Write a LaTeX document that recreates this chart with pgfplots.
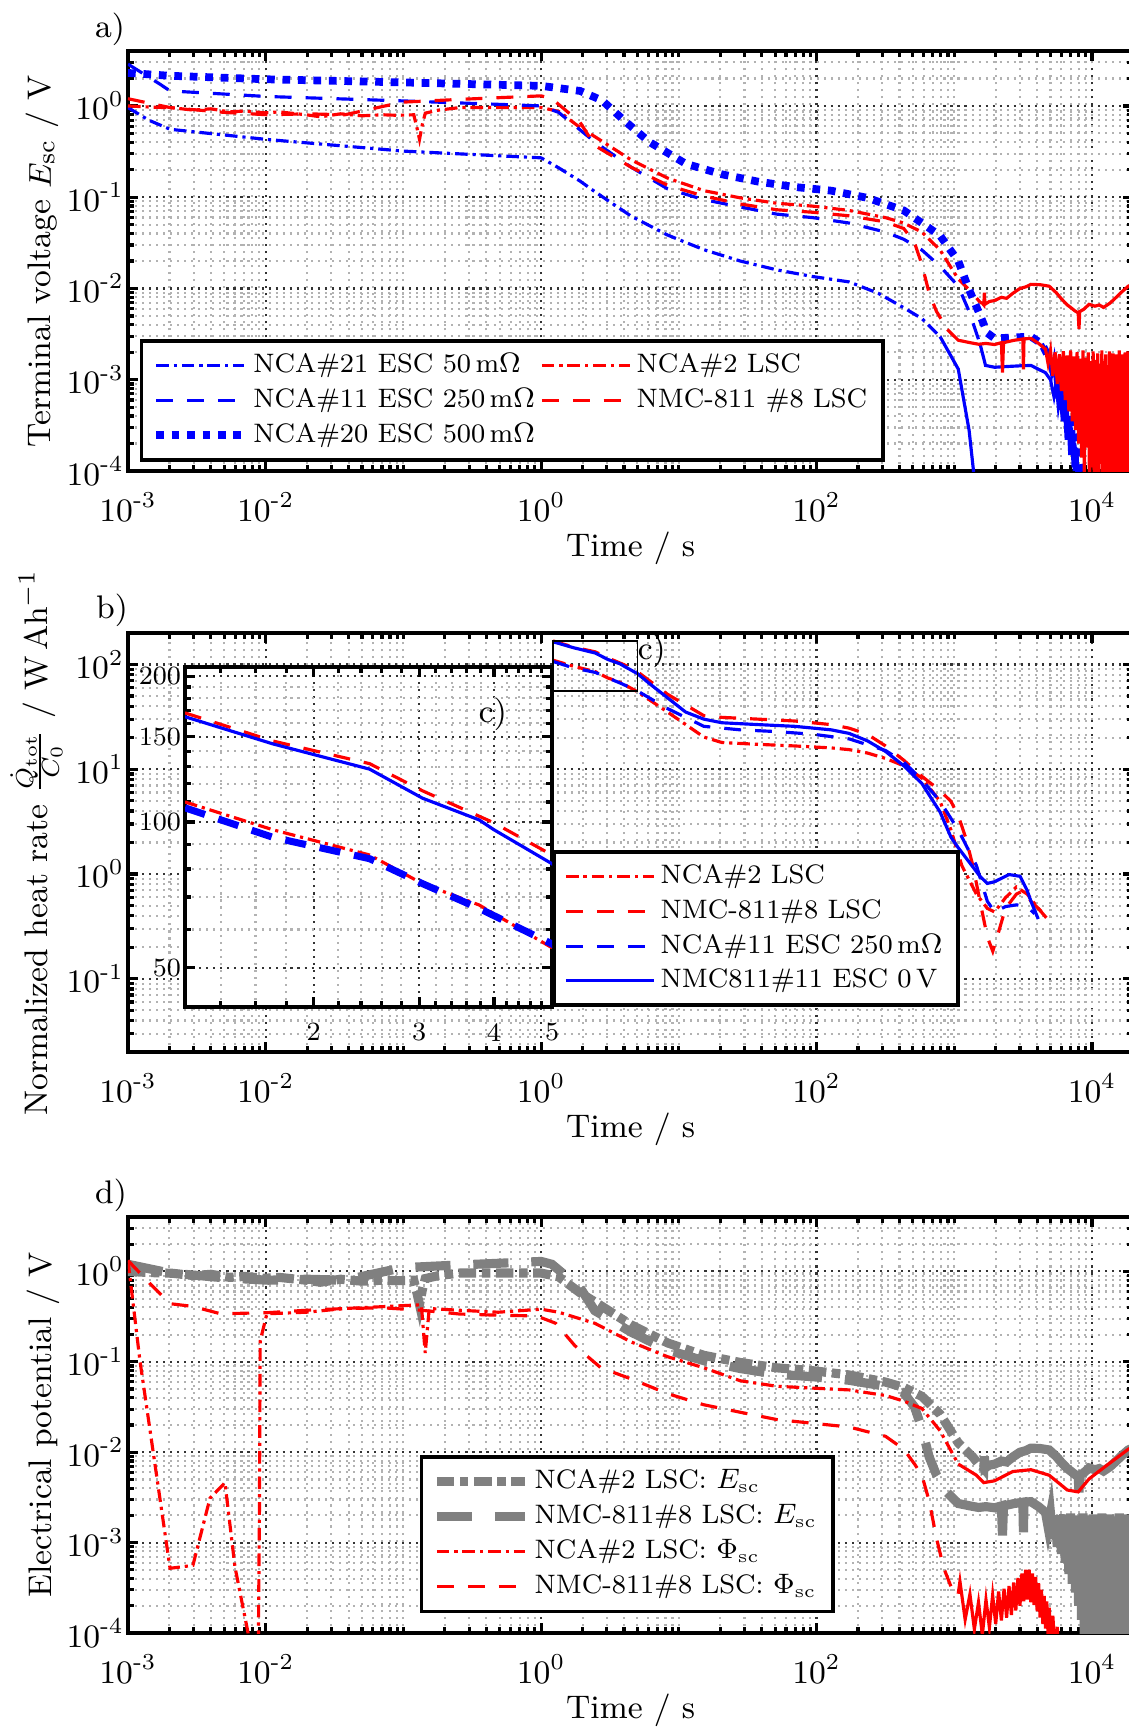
\documentclass[border=0pt]{standalone}
\usepackage{pgfplots}
\pgfplotsset{compat=1.18}
\usepackage{pgfplotstable}

\definecolor{mblue}{rgb}{0,0,1}
\definecolor{mred}{rgb}{1,0,0}
\definecolor{mgray}{rgb}{0.5,0.5,0.5}

\tikzset{
  ddot/.style={dash pattern=on 3.6pt off 1.4pt on 0.9pt off 1.4pt},
  ddash/.style={dash pattern=on 4.8pt off 4pt},
  gdot/.style={dash pattern=on 5pt off 1.6pt on 2.4pt off 1.6pt},
  gdash/.style={dash pattern=on 10pt off 6.5pt},
  bl/.style={color=mblue, line width=0.9pt},
  rd/.style={color=mred, line width=0.9pt},
  gy/.style={color=mgray, line width=2.6pt},
}

% ---------- panel a: terminal voltage ----------
\pgfplotstableread{
t v
0.001 0.96
0.00141 0.70
0.00202 0.555
0.0101 0.43
0.1 0.32
0.3 0.295
1.0 0.27
1.34 0.21
1.92 0.15
2.455 0.115
4.51 0.0620
8.28 0.0385
15.2 0.0266
27.9 0.0200
51.3 0.0160
94.2 0.0135
172.6 0.0118
281 0.00885
430 0.00615
582 0.00468
789 0.00297
}\escA
\pgfplotstableread{
t v
789 0.00297
1069 0.00131
1282 0.000279
1380 0.0001
1445 0.000025
}\escAtail

\pgfplotstableread{
t v
0.001 2.87
0.00171 1.73
0.00202 1.46
0.0101 1.27
0.1 1.135
0.6 1.03
1.0 1.0
1.34 0.85
2.455 0.403
4.51 0.213
8.28 0.1236
15.2 0.0940
27.9 0.0783
51.3 0.0653
94.2 0.0597
172.6 0.0521
317 0.0415
430 0.0346
582 0.0264
789 0.0175
1069 0.0106
1282 0.00561
1538 0.00248
}\escB
\pgfplotstableread{
t v
1538 0.00248
1687 0.001435
1963 0.00137
2500 0.00140
3000 0.00142
3606 0.001435
4100 0.00130
4592 0.001197
5000 0.00100
5300 0.00065
5500 0.00090
5700 0.00050
5900 0.00070
6100 0.00035
6300 0.00055
6500 0.00022
6700 0.00040
6900 0.00015
7100 0.00030
7300 0.00011
7500 0.00020
7943 0.0001
8318 0.000032
}\escBtail

\pgfplotstableread{
t v
0.001 2.3
0.00202 2.14
0.0101 1.96
0.1 1.81
1.0 1.66
1.92 1.46
2.773 1.148
4.0 0.695
6.11 0.403
11.2 0.233
20.6 0.178
37.8 0.148
69.5 0.1294
127.6 0.118
234 0.0984
430 0.0716
582 0.0521
789 0.0379
1069 0.0200
1282 0.00968
1538 0.00513
1738 0.00325
1963 0.00284
3606 0.00297
4325 0.00248
5861 0.000998
7464 0.000279
8433 0.0001
8913 0.000032
}\escC
\pgfplotstableread{
t v
4325 0.00248
4800 0.0018
5100 0.0012
5300 0.0016
5500 0.0009
5700 0.0012
5861 0.0007
6100 0.0009
6300 0.0004
6500 0.0006
6700 0.00025
6900 0.0004
7100 0.00016
7300 0.00028
7500 0.0001
7700 0.00018
7900 0.00006
8100 0.0001
8433 0.00004
}\escCtail

\pgfplotstableread{
t v
0.001 1.0
0.0015 0.97
0.00209 0.955
0.003 0.90
0.004 0.93
0.00547 0.86
0.007 0.88
0.0098 0.84
0.0125 0.86
0.0197 0.80
0.025 0.76
0.035 0.82
0.05 0.78
0.0711 0.80
0.09 0.79
0.1189 0.80
0.1259 0.562
0.1309 0.43
0.1374 0.631
0.1442 0.834
0.18 0.90
0.257 0.96
0.488 0.96
1.0 0.96
1.34 0.873
1.92 0.58
2.455 0.461
4.51 0.256
8.28 0.162
15.2 0.118
27.9 0.0984
51.3 0.0859
94.2 0.0798
172.6 0.0716
317 0.0597
430 0.0521
582 0.0415
789 0.0264
1069 0.0127
1365 0.00885
1538 0.00705
}\lscA
\pgfplotstableread{
t v
1538 0.00705
1600 0.00690
1640 0.0066
1655 0.0090
1670 0.0067
1800 0.00720
1963 0.00738
2200 0.0080
2400 0.0078
2661 0.00885
3000 0.0100
3300 0.0104
3606 0.0111
4200 0.0110
4887 0.0106
5500 0.0090
6000 0.0077
6622 0.0066
7000 0.0062
7500 0.0057
7943 0.0054
8050 0.0036
8150 0.0056
8700 0.0059
9528 0.0067
10500 0.0064
11300 0.0066
12134 0.0062
13500 0.0069
15000 0.0080
16500 0.0092
18365 0.0106
20000 0.0112
}\lscAtail

\pgfplotstableread{
t v
0.001 1.2
0.001517 1.05
0.00202 0.96
0.005 0.85
0.0104 0.80
0.02 0.82
0.0375 0.80
0.0982 1.1
0.2564 1.18
1.0 1.29
1.197 1.2
1.92 0.66
2.455 0.368
4.51 0.213
8.28 0.1352
15.2 0.1030
27.9 0.0843
51.3 0.0729
94.2 0.0684
172.6 0.0625
317 0.0536
430 0.0454
515 0.0316
582 0.0183
658 0.00885
743 0.00561
891 0.00356
}\lscB
\pgfplotstableread{
t v
891 0.00356
1069 0.00271
1300 0.00255
1500 0.00245
1700 0.00250
1963 0.00243
2200 0.00255
2240 0.00120
2280 0.00255
2700 0.00270
3150 0.00280
3180 0.00130
3210 0.00280
3606 0.00284
4100 0.00250
4600 0.00216
4800 0.00150
5000 0.00210
5200 0.00110
5400 0.00200
5600 0.00090
5800 0.00190
6000 0.00075
6200 0.00205
6400 0.00060
6600 0.00185
6800 0.00045
7000 0.00210
7200 0.00035
7400 0.00180
7600 0.00028
7800 0.00200
8000 0.00020
8200 0.00170
8400 0.00014
8600 0.00210
8800 0.00009
9000 0.00175
9200 0.00018
9400 0.00200
9600 0.00006
9800 0.00160
10000 0.00011
10200 0.00205
10400 0.00005
10600 0.00165
10800 0.00008
11000 0.00195
11200 0.00004
11400 0.00150
11600 0.00012
11800 0.00210
12000 0.00004
12200 0.00160
12400 0.00007
12600 0.00190
12800 0.00004
13000 0.00145
13200 0.00010
13400 0.00205
13600 0.00004
13800 0.00155
14000 0.00006
14200 0.00195
14400 0.00004
14600 0.00140
14800 0.00009
15000 0.00190
15200 0.00004
15400 0.00165
15600 0.00006
15800 0.00210
16000 0.00004
16200 0.00145
16400 0.00008
16600 0.00190
16800 0.00004
17000 0.00170
17200 0.00005
17400 0.00200
17600 0.00004
17800 0.00150
18000 0.00007
18200 0.00205
18400 0.00004
18600 0.00165
18800 0.00006
19000 0.00190
19200 0.00004
19400 0.00155
19600 0.00008
19800 0.00200
20000 0.00005
}\lscBtail

% ---------- panel b: normalized heat rate ----------
\pgfplotstableread{
t v
1.22 110
1.71 96.4
2.48 85.5
3.04 74.6
3.78 67.4
5.0 55
8.28 35.2
15.2 20.3
20.6 18.0
37.8 17.3
69.5 16.7
127.6 16.0
172.6 15.4
234 14.3
317 12.7
430 10.8
582 8.24
789 4.94
946 2.64
1135 1.205
1449 0.643
1738 0.470
1963 0.435
2355 0.594
2825 0.752
3388 0.643
4074 0.470
4887 0.356
}\qA
\pgfplotstableread{
t v
1.22 168
1.71 147
2.48 132
3.04 116
4.0 99.6
5.0 85.5
8.28 52.0
15.2 32.5
20.6 31.3
37.8 30.1
69.5 28.9
127.6 26.7
172.6 24.7
234 21.6
317 16.7
430 12.2
582 8.57
789 6.25
946 4.94
1069 3.61
1208 2.25
1365 1.205
1538 0.550
1738 0.251
1905 0.183
2084 0.271
2355 0.470
2825 0.643
3192 0.695
3606 0.550
4325 0.435
4887 0.356
}\qB
\pgfplotstableread{
t v
1.22 107
1.71 93
2.48 84
3.04 74.6
3.78 66.3
5.0 56
8.28 38.0
15.2 25.7
27.9 23.8
51.3 22.9
94.2 21.6
172.6 19.5
317 15.1
430 11.7
582 7.93
789 4.94
1069 2.64
1449 1.205
1738 0.550
1963 0.435
2355 0.489
2825 0.508
3388 0.489
3828 0.418
}\qC
\pgfplotstableread{
t v
1.22 165
1.71 145
2.48 128.6
3.04 112
3.78 101
4.0 96.4
5.0 82
6.11 65.9
8.28 48.1
11.2 35.2
15.2 30.1
20.6 27.8
37.8 26.7
69.5 25.7
127.6 23.8
172.6 22.0
234 18.7
317 14.8
430 10.8
582 7.31
789 3.91
946 2.25
1069 1.782
1282 1.303
1538 0.951
1738 0.813
1963 0.845
2500 0.989
3006 0.951
3388 0.695
3606 0.550
4074 0.372
}\qD

% ---------- panel d: electrical potential ----------
\pgfplotstableread{
t v
0.001 1.32
0.00122 0.104
0.00202 0.00052
0.00296 0.00056
0.00394 0.0031
0.00506 0.0046
0.00598 0.00054
0.00745 0.0001
0.0080 0.00003
0.0088 0.00003
0.0090 0.002
0.00912 0.17
0.0102 0.34
0.0197 0.354
0.0375 0.389
0.0711 0.408
0.135 0.428
0.144 0.125
0.154 0.389
0.256 0.372
0.488 0.354
1.0 0.382
1.34 0.354
2.455 0.267
4.51 0.166
8.28 0.114
15.2 0.0859
27.9 0.0618
51.3 0.0537
94.2 0.0512
172.6 0.0489
317 0.0424
430 0.0368
582 0.0305
789 0.0173
1069 0.0074
}\phiA
\pgfplotstableread{
t v
1069 0.0074
1449 0.00557
1637 0.00461
1963 0.00483
2661 0.00612
3606 0.00641
4887 0.00557
6622 0.00382
7943 0.00364
9528 0.00507
12134 0.00673
18365 0.0108
20000 0.0115
}\phiAtail
\pgfplotstableread{
t v
0.001 1.32
0.00145 0.73
0.00202 0.44
0.00296 0.41
0.0047 0.34
0.0104 0.35
0.0197 0.372
0.0375 0.389
0.0711 0.396
0.135 0.372
0.256 0.338
0.488 0.328
0.927 0.322
1.276 0.267
1.758 0.151
2.716 0.0859
4.51 0.0647
8.28 0.0445
15.2 0.0335
27.9 0.0277
51.3 0.0230
94.2 0.0209
172.6 0.0190
317 0.0150
430 0.0108
515 0.0074
582 0.00557
658 0.00288
743 0.00112
838 0.000526
946 0.000328
1069 0.000272
}\phiB
\pgfplotstableread{
t v
1069 0.000272
1100 0.000372
1200 0.000141
1300 0.000269
1400 0.000110
1500 0.000219
1600 0.000095
1700 0.000234
1800 0.000115
1900 0.000263
2000 0.000126
2100 0.000288
2200 0.000138
2300 0.000309
2400 0.000148
2500 0.000331
2600 0.000158
2700 0.000363
2800 0.000178
2900 0.000407
3000 0.000200
3100 0.000457
3200 0.000224
3300 0.000501
3400 0.000234
3500 0.000501
3600 0.000219
3700 0.000457
3800 0.000204
3900 0.000417
4000 0.000174
4100 0.000355
4200 0.000148
4300 0.000302
4400 0.000126
4500 0.000257
4600 0.000112
4700 0.000224
4800 0.000095
4900 0.000191
5000 0.000081
5200 0.000155
5400 0.000062
5600 0.000117
5800 0.000043
6000 0.000050
}\phiBtail

\pgfplotsset{
  legend image code/.code={\draw[#1] (0mm,0mm) -- (8.8mm,0mm);},
}

\begin{document}
\begin{tikzpicture}

\node[font=\fontsize{9.3}{11}\selectfont] at (11.0mm,-2.9mm) {a)};
\node[font=\fontsize{9.3}{11}\selectfont] at (11.2mm,-61.0mm) {b)};
\node[font=\fontsize{9.3}{11}\selectfont] at (11.1mm,-119.5mm) {d)};

% a)
\begin{axis}[
  xmode=log, ymode=log,
  scale only axis, width=100.54mm, height=42.0mm,
  at={(12.8mm,-5.1mm)}, anchor=north west,
  xmin=0.001, xmax=20000, ymin=0.0001, ymax=4,
  xtick={0.001,0.01,1,100,10000},
  xticklabels={10\textsuperscript{-3},10\textsuperscript{-2},10\textsuperscript{0},10\textsuperscript{2},10\textsuperscript{4}},
  minor xtick={0.002,0.003,0.004,0.005,0.006,0.007,0.008,0.009,0.02,0.03,0.04,0.05,0.06,0.07,0.08,0.09,0.1,0.2,0.3,0.4,0.5,0.6,0.7,0.8,0.9,2,3,4,5,6,7,8,9,10,20,30,40,50,60,70,80,90,200,300,400,500,600,700,800,900,1000,2000,3000,4000,5000,6000,7000,8000,9000,20000},
  ytick={0.0001,0.001,0.01,0.1,1},
  yticklabels={10\textsuperscript{-4},10\textsuperscript{-3},10\textsuperscript{-2},10\textsuperscript{-1},10\textsuperscript{0}},
  minor ytick={0.0002,0.0003,0.0004,0.0005,0.0006,0.0007,0.0008,0.0009,0.002,0.003,0.004,0.005,0.006,0.007,0.008,0.009,0.02,0.03,0.04,0.05,0.06,0.07,0.08,0.09,0.2,0.3,0.4,0.5,0.6,0.7,0.8,0.9,2,3,4},
  grid=both,
  major grid style={black!80, line width=0.6pt, dash pattern=on 0.6pt off 1.4pt},
  minor grid style={black!30, line width=0.6pt, dash pattern=on 0.6pt off 1.4pt},
  axis line style={line width=1.1pt},
  major tick length=1mm, minor tick length=0.6mm,
  tick style={black, line width=0.9pt},
  tick label style={font=\fontsize{9.3}{11}\selectfont},
  yticklabel style={inner xsep=1pt},
  xticklabel style={yshift=-0.9mm},
  label style={font=\fontsize{9.3}{11}\selectfont},
  xlabel={Time / s},
  xlabel style={at={(axis description cs:0.5,0)}, anchor=center, yshift=-7.7mm},
  ylabel={Terminal voltage $E_\mathrm{sc}$ / V},
  ylabel style={at={(axis description cs:-0.0766,0.5)}, anchor=base},
  legend cell align=left,
  legend columns=2,
  legend style={draw=black, line width=1pt, font=\fontsize{7.6}{9}\selectfont,
    nodes={inner sep=1.5pt},
    at={(axis description cs:0.0119,0.3143)}, anchor=north west},
]
\addplot[bl, ddot] table[x=t,y=v] {\escA};
\addplot[rd, ddot] table[x=t,y=v] {\lscA};
\addplot[bl, ddash] table[x=t,y=v] {\escB};
\addplot[rd, ddash] table[x=t,y=v] {\lscB};
\addplot[color=mblue, line width=2.2pt, dash pattern=on 2.2pt off 2.2pt] table[x=t,y=v] {\escC};
\addplot[bl, forget plot] table[x=t,y=v] {\escAtail};
\addplot[bl, forget plot] table[x=t,y=v] {\escBtail};
\addplot[color=mblue, line width=1.2pt, forget plot] table[x=t,y=v] {\escCtail};
\addplot[rd, forget plot] table[x=t,y=v] {\lscAtail};
\addplot[rd, forget plot] table[x=t,y=v] {\lscBtail};
\legend{NCA\#21 ESC 50\,m$\Omega$, NCA\#2 LSC, NCA\#11 ESC 250\,m$\Omega$, NMC-811 \#8 LSC, NCA\#20 ESC 500\,m$\Omega$}
\end{axis}

% b)
\begin{axis}[
  xmode=log, ymode=log,
  scale only axis, width=100.54mm, height=41.9mm,
  at={(12.8mm,-63.3mm)}, anchor=north west,
  xmin=0.001, xmax=20000, ymin=0.02, ymax=200,
  xtick={0.001,0.01,1,100,10000},
  xticklabels={10\textsuperscript{-3},10\textsuperscript{-2},10\textsuperscript{0},10\textsuperscript{2},10\textsuperscript{4}},
  minor xtick={0.002,0.003,0.004,0.005,0.006,0.007,0.008,0.009,0.02,0.03,0.04,0.05,0.06,0.07,0.08,0.09,0.1,0.2,0.3,0.4,0.5,0.6,0.7,0.8,0.9,2,3,4,5,6,7,8,9,10,20,30,40,50,60,70,80,90,200,300,400,500,600,700,800,900,1000,2000,3000,4000,5000,6000,7000,8000,9000,20000},
  ytick={0.1,1,10,100},
  yticklabels={10\textsuperscript{-1},10\textsuperscript{0},10\textsuperscript{1},10\textsuperscript{2}},
  minor ytick={0.03,0.04,0.05,0.06,0.07,0.08,0.09,0.2,0.3,0.4,0.5,0.6,0.7,0.8,0.9,2,3,4,5,6,7,8,9,20,30,40,50,60,70,80,90},
  grid=both,
  major grid style={black!80, line width=0.6pt, dash pattern=on 0.6pt off 1.4pt},
  minor grid style={black!30, line width=0.6pt, dash pattern=on 0.6pt off 1.4pt},
  axis line style={line width=1.1pt},
  major tick length=1mm, minor tick length=0.6mm,
  tick style={black, line width=0.9pt},
  tick label style={font=\fontsize{9.3}{11}\selectfont},
  yticklabel style={inner xsep=1pt},
  xticklabel style={yshift=-0.9mm},
  label style={font=\fontsize{9.3}{11}\selectfont},
  xlabel={Time / s},
  xlabel style={at={(axis description cs:0.5,0)}, anchor=center, yshift=-7.7mm},
  ylabel={Normalized heat rate $\frac{\dot{Q}_\mathrm{tot}}{C_0}$ / W\,Ah$^{-1}$},
  ylabel style={at={(axis description cs:-0.0796,0.5)}, anchor=base},
  legend cell align=left,
  legend style={draw=black, line width=1pt, font=\fontsize{7.6}{9}\selectfont,
    nodes={inner sep=1.5pt},
    at={(axis description cs:0.4217,0.1074)}, anchor=south west},
]
\addplot[rd, ddot] table[x=t,y=v] {\qA};
\addplot[rd, ddash] table[x=t,y=v] {\qB};
\addplot[bl, ddash] table[x=t,y=v] {\qC};
\addplot[bl] table[x=t,y=v] {\qD};
\legend{NCA\#2 LSC, NMC-811\#8 LSC, NCA\#11 ESC 250\,m$\Omega$, NMC811\#11 ESC 0\,V}
\draw[line width=0.5pt] (axis cs:1.22,55.8) rectangle (axis cs:5,168);
\node[font=\fontsize{9.3}{11}\selectfont] at (axis description cs:0.521,0.957) {c)};
\end{axis}

% c) inset
\begin{axis}[
  xmode=log, ymode=log,
  scale only axis, width=36.7mm, height=34.0mm,
  at={(18.5mm,-66.7mm)}, anchor=north west,
  xmin=1.22, xmax=5, ymin=41.5, ymax=209,
  xtick={2,3,4,5}, xticklabels={2,3,4,5},
  ytick={50,100,150,200}, yticklabels={50,100,150,200},
  minor xtick={1.4,1.6,1.8,2.2,2.4,2.6,2.8,3.2,3.4,3.6,3.8,4.2,4.4,4.6,4.8},
  minor ytick={60,70,80,90,110,120,130,140,160,170,180,190},
  grid=both,
  major grid style={black!80, line width=0.6pt, dash pattern=on 0.6pt off 1.4pt},
  minor grid style={black!30, line width=0.6pt, dash pattern=on 0.6pt off 1.4pt},
  axis line style={line width=1.1pt},
  major tick length=1mm, minor tick length=0.6mm,
  tick style={black, line width=0.9pt},
  axis background/.style={fill=white},
  tick label style={font=\fontsize{7.5}{9}\selectfont},
  yticklabel style={inner xsep=1pt},
  xticklabel style={yshift=-0.4mm},
]
\addplot[rd, ddot] table[x=t,y=v] {\qA};
\addplot[rd, ddash] table[x=t,y=v] {\qB};
\addplot[color=mblue, line width=2pt, dash pattern=on 6pt off 4pt] table[x=t,y=v] {\qC};
\addplot[bl] table[x=t,y=v] {\qD};
\node[font=\fontsize{9.3}{11}\selectfont] at (axis description cs:0.839,0.862) {c)};
\end{axis}

% d)
\begin{axis}[
  xmode=log, ymode=log,
  scale only axis, width=100.54mm, height=41.6mm,
  at={(12.8mm,-121.7mm)}, anchor=north west,
  xmin=0.001, xmax=20000, ymin=0.0001, ymax=4,
  xtick={0.001,0.01,1,100,10000},
  xticklabels={10\textsuperscript{-3},10\textsuperscript{-2},10\textsuperscript{0},10\textsuperscript{2},10\textsuperscript{4}},
  minor xtick={0.002,0.003,0.004,0.005,0.006,0.007,0.008,0.009,0.02,0.03,0.04,0.05,0.06,0.07,0.08,0.09,0.1,0.2,0.3,0.4,0.5,0.6,0.7,0.8,0.9,2,3,4,5,6,7,8,9,10,20,30,40,50,60,70,80,90,200,300,400,500,600,700,800,900,1000,2000,3000,4000,5000,6000,7000,8000,9000,20000},
  ytick={0.0001,0.001,0.01,0.1,1},
  yticklabels={10\textsuperscript{-4},10\textsuperscript{-3},10\textsuperscript{-2},10\textsuperscript{-1},10\textsuperscript{0}},
  minor ytick={0.0002,0.0003,0.0004,0.0005,0.0006,0.0007,0.0008,0.0009,0.002,0.003,0.004,0.005,0.006,0.007,0.008,0.009,0.02,0.03,0.04,0.05,0.06,0.07,0.08,0.09,0.2,0.3,0.4,0.5,0.6,0.7,0.8,0.9,2,3,4},
  grid=both,
  major grid style={black!80, line width=0.6pt, dash pattern=on 0.6pt off 1.4pt},
  minor grid style={black!30, line width=0.6pt, dash pattern=on 0.6pt off 1.4pt},
  axis line style={line width=1.1pt},
  major tick length=1mm, minor tick length=0.6mm,
  tick style={black, line width=0.9pt},
  tick label style={font=\fontsize{9.3}{11}\selectfont},
  yticklabel style={inner xsep=1pt},
  xticklabel style={yshift=-0.9mm},
  label style={font=\fontsize{9.3}{11}\selectfont},
  xlabel={Time / s},
  xlabel style={at={(axis description cs:0.5,0)}, anchor=center, yshift=-7.7mm},
  ylabel={Electrical potential / V},
  ylabel style={at={(axis description cs:-0.0756,0.5)}, anchor=base},
  legend cell align=left,
  legend style={draw=black, line width=1pt, font=\fontsize{7.6}{9}\selectfont,
    nodes={inner sep=1.5pt},
    at={(axis description cs:0.2904,0.048)}, anchor=south west},
]
\addplot[gy, gdot] table[x=t,y=v] {\lscA};
\addplot[gy, gdash] table[x=t,y=v] {\lscB};
\addplot[rd, ddot] table[x=t,y=v] {\phiA};
\addplot[rd, ddash] table[x=t,y=v] {\phiB};
\addplot[gy, forget plot] table[x=t,y=v] {\lscAtail};
\addplot[gy, forget plot] table[x=t,y=v] {\lscBtail};
\addplot[rd, forget plot] table[x=t,y=v] {\phiAtail};
\addplot[rd, forget plot] table[x=t,y=v] {\phiBtail};
\legend{NCA\#2 LSC: $E_\mathrm{sc}$, NMC-811\#8 LSC: $E_\mathrm{sc}$, NCA\#2 LSC: $\Phi_\mathrm{sc}$, NMC-811\#8 LSC: $\Phi_\mathrm{sc}$}
\end{axis}

\pgfresetboundingbox
\path[use as bounding box] (0,0) rectangle (112.8mm,-173mm);
\end{tikzpicture}
\end{document}
